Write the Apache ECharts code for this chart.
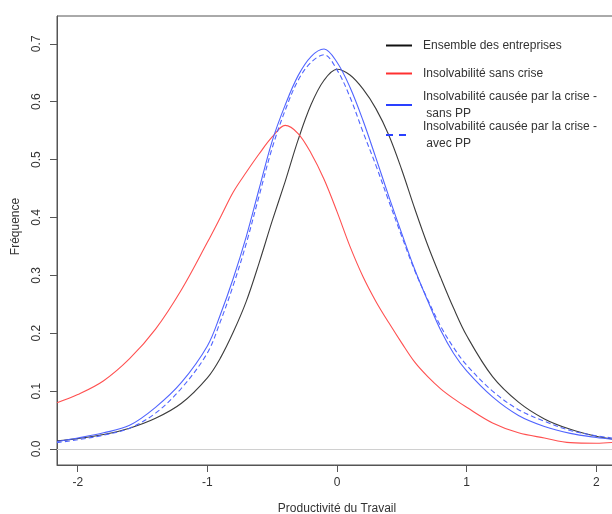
<!DOCTYPE html>
<html>
<head>
<meta charset="utf-8">
<script src="https://cdn.jsdelivr.net/npm/echarts@6/dist/echarts.min.js"></script>
<style>
  html, body { margin: 0; padding: 0; background: #fff; }
  #chart { width: 612px; height: 514px; }
</style>
</head>
<body>
<div id="chart"></div>
<script>
// ---- data ----
const xValues = [-2.16, -2.0, -1.8, -1.6, -1.4, -1.2, -1.0, -0.9, -0.8, -0.7, -0.6, -0.5, -0.4, -0.3, -0.2, -0.1, 0.0,
                 0.1, 0.2, 0.3, 0.4, 0.5, 0.6, 0.7, 0.8, 0.9, 1.0, 1.2, 1.4, 1.6, 1.8, 2.0, 2.16];

const ensembleValues = [0.014, 0.018, 0.025, 0.036, 0.053, 0.079, 0.123, 0.157, 0.202, 0.255, 0.322, 0.394, 0.462, 0.534, 0.595, 0.637, 0.656,
                        0.646, 0.622, 0.588, 0.542, 0.482, 0.415, 0.352, 0.296, 0.243, 0.196, 0.125, 0.081, 0.052, 0.034, 0.022, 0.016];

const sansCriseValues = [0.080, 0.094, 0.118, 0.156, 0.207, 0.275, 0.357, 0.400, 0.444, 0.478, 0.510, 0.539, 0.559, 0.545, 0.511, 0.466, 0.410,
                         0.350, 0.298, 0.255, 0.218, 0.183, 0.150, 0.125, 0.104, 0.087, 0.072, 0.045, 0.028, 0.019, 0.011, 0.010, 0.012];

const sansPPValues = [0.013, 0.019, 0.028, 0.041, 0.072, 0.115, 0.178, 0.232, 0.295, 0.367, 0.450, 0.532, 0.594, 0.645, 0.678, 0.691, 0.668,
                      0.625, 0.568, 0.503, 0.436, 0.372, 0.310, 0.256, 0.205, 0.165, 0.135, 0.090, 0.058, 0.039, 0.027, 0.020, 0.016];

const avecPPValues = [0.011, 0.016, 0.024, 0.036, 0.062, 0.105, 0.166, 0.220, 0.283, 0.355, 0.438, 0.520, 0.585, 0.637, 0.668, 0.681, 0.655,
                      0.608, 0.548, 0.490, 0.428, 0.367, 0.308, 0.258, 0.212, 0.175, 0.145, 0.100, 0.068, 0.048, 0.032, 0.023, 0.018];

const seriesNames = [
  'Ensemble des entreprises',
  'Insolvabilité sans crise',
  'Insolvabilité causée par la crise -\n sans PP',
  'Insolvabilité causée par la crise -\n avec PP'
];

const xTickValues = [-2, -1, 0, 1, 2];
const yTickValues = [0, 0.1, 0.2, 0.3, 0.4, 0.5, 0.6, 0.7];
const xRange = [-2.16, 2.16];
const yRange = [-0.0276, 0.748];

const xTitle = 'Productivité du Travail';
const yTitle = 'Fréquence';

// ---- build ----
const FONT = '"Liberation Sans", Arial, sans-serif';
const TXT = '#333';
const AX = '#555';

function pairs(vals) { return xValues.map((x, i) => [x, vals[i]]); }

const colors = ['#3c3c3c', '#ff5050', '#5064ff', '#5064ff'];
const legendColors = ['#111', '#ff3030', '#2a40ff', '#2a40ff'];
const allVals = [ensembleValues, sansCriseValues, sansPPValues, avecPPValues];
const legendTops = [37, 65, 88, 118];

const series = allVals.map((vals, i) => ({
  name: seriesNames[i],
  type: 'line',
  data: pairs(vals),
  smooth: 0.35,
  showSymbol: false,
  symbol: 'none',
  silent: true,
  z: 3 + i,
  lineStyle: { color: colors[i], width: 1.1, type: i === 3 ? [5, 3] : 'solid' },
  itemStyle: { color: colors[i] },
  markLine: i === 0 ? {
    silent: true, symbol: 'none', label: { show: false },
    lineStyle: { color: '#d0d0d0', width: 1, type: 'solid' },
    data: [{ yAxis: 0 }],
    z: 1
  } : undefined
}));

const legends = seriesNames.map((n, i) => ({
  show: true,
  orient: 'vertical',
  left: 385,
  top: legendTops[i],
  itemWidth: 26,
  itemHeight: 14,
  padding: 0,
  selectedMode: false,
  data: [n],
  itemStyle: { opacity: 0 },
  lineStyle: { color: legendColors[i], width: 2, type: i === 3 ? [7, 6] : 'solid' },
  textStyle: { fontFamily: FONT, fontSize: 12, color: TXT, lineHeight: 17, padding: [0, 0, 0, 6] }
}));

const chart = echarts.init(document.getElementById('chart'), null, { renderer: 'canvas' });
chart.setOption({
  animation: false,
  backgroundColor: '#fff',
  legend: legends,
  grid: {
    left: 57, top: 16, right: -5, bottom: 49,
    show: true, borderColor: AX, borderWidth: 1, containLabel: false,
    outerBoundsMode: 'none'
  },
  xAxis: {
    type: 'value',
    min: xRange[0], max: xRange[1],
    name: xTitle,
    nameLocation: 'middle',
    nameGap: 38,
    nameTextStyle: { fontFamily: FONT, fontSize: 12, color: TXT },
    axisLine: { show: true, onZero: false, lineStyle: { color: AX } },
    axisTick: { show: true, length: 7, customValues: xTickValues, lineStyle: { color: AX } },
    axisLabel: { customValues: xTickValues, margin: 12, fontFamily: FONT, fontSize: 12, color: TXT,
                 formatter: v => String(v) },
    splitLine: { show: false }
  },
  yAxis: {
    type: 'value',
    min: yRange[0], max: yRange[1],
    name: yTitle,
    nameLocation: 'middle',
    nameGap: 35,
    nameRotate: 90,
    nameTextStyle: { fontFamily: FONT, fontSize: 12, color: TXT, padding: [0, 0, 0, 28] },
    axisLine: { show: true, onZero: false, lineStyle: { color: AX } },
    axisTick: { show: true, length: 7, customValues: yTickValues, lineStyle: { color: AX } },
    axisLabel: { customValues: yTickValues, rotate: 90, margin: 14, fontFamily: FONT, fontSize: 12, color: TXT,
                 formatter: v => Number(v).toFixed(1) },
    splitLine: { show: false }
  },
  series: series
});
</script>
</body>
</html>
